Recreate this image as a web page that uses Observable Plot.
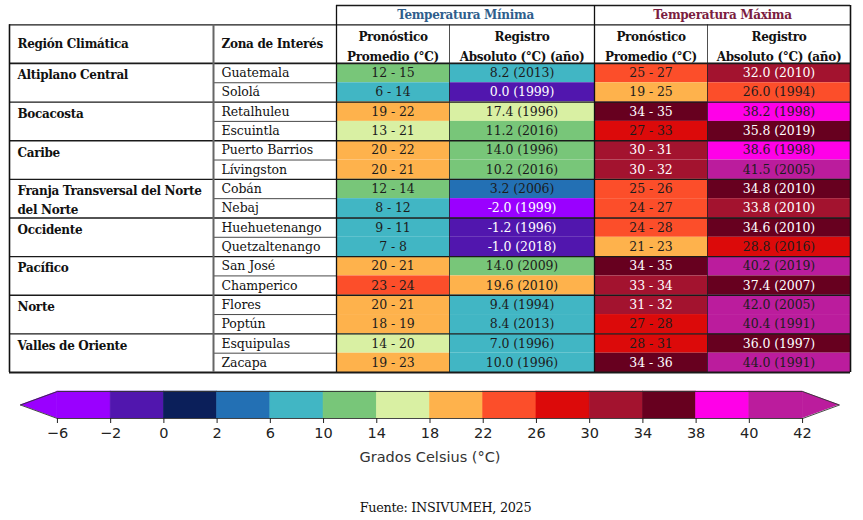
<!DOCTYPE html>
<html><head><meta charset="utf-8">
<script src="https://cdn.jsdelivr.net/npm/d3@7"></script>
<script src="https://cdn.jsdelivr.net/npm/@observablehq/plot@0.6"></script>
<style>
body{margin:0;background:#fff;width:863px;height:520px;overflow:hidden;position:relative}
#table,#bar{display:block;line-height:0}
#fuente{position:absolute;top:500px;left:14px;width:863px;text-align:center;font-family:"DejaVu Serif",serif;font-size:12.8px;letter-spacing:-0.3px;color:#111}
.bold text, text.bold{letter-spacing:-0.3px}
</style></head><body>
<div id="table"></div><div id="bar"></div><div id="fuente">Fuente: INSIVUMEH, 2025</div>
<script>
// ---------------- DATA ----------------
const regions = ["Altiplano Central", "Bocacosta", "Caribe", "Franja Transversal del Norte\ndel Norte", "Occidente", "Pacífico", "Norte", "Valles de Oriente"];
const zones = ["Guatemala", "Sololá", "Retalhuleu", "Escuintla", "Puerto Barrios", "Lívingston", "Cobán", "Nebaj", "Huehuetenango", "Quetzaltenango", "San José", "Champerico", "Flores", "Poptún", "Esquipulas", "Zacapa"];
const zoneRegion = [0, 0, 1, 1, 2, 2, 3, 3, 4, 4, 5, 5, 6, 6, 7, 7];
const minLo = [12, 6, 19, 13, 20, 20, 12, 8, 9, 7, 20, 23, 20, 18, 14, 19];
const minHi = [15, 14, 22, 21, 22, 21, 14, 12, 11, 8, 21, 24, 21, 19, 20, 23];
const minRec = [8.2, 0.0, 17.4, 11.2, 14.0, 10.2, 3.2, -2.0, -1.2, -1.0, 14.0, 19.6, 9.4, 8.4, 7.0, 10.0];
const minRecYear = [2013, 1999, 1996, 2016, 1996, 2016, 2006, 1999, 1996, 2018, 2009, 2010, 1994, 2013, 1996, 1996];
const maxLo = [25, 19, 34, 27, 30, 30, 25, 24, 24, 21, 34, 33, 31, 27, 28, 34];
const maxHi = [27, 25, 35, 33, 31, 32, 26, 27, 28, 23, 35, 34, 32, 28, 31, 36];
const maxRec = [32.0, 26.0, 38.2, 35.8, 38.6, 41.5, 34.8, 33.8, 34.6, 28.8, 40.2, 37.4, 42.0, 40.4, 36.0, 44.0];
const maxRecYear = [2010, 1994, 1998, 2019, 1998, 2005, 2010, 2010, 2010, 2016, 2019, 2007, 2005, 1991, 1997, 1991];
const groupTitles = ["Temperatura Mínima", "Temperatura Máxima"];
const headers = ["Región Climática", "Zona de Interés", "Pronóstico\nPromedio (°C)", "Registro\nAbsoluto (°C) (año)", "Pronóstico\nPromedio (°C)", "Registro\nAbsoluto (°C) (año)"];
const thresholds = [-6, -2, 0, 2, 6, 10, 14, 18, 22, 26, 30, 34, 38, 40, 42];
const binColors = ["#9a00ff", "#5116ae", "#0b1f5a", "#2370b4", "#41b6c4", "#78c679", "#d9f0a3", "#feb24c", "#fc4e2a", "#dc0a0a", "#a3132f", "#67001f", "#ff00e8", "#bb1c9d"];
const darkBins = [0, 1, 2, 10, 11];
const barLabel = "Grados Celsius (°C)";

// ---------------- LAYOUT ----------------
const COL_W = [204, 123, 113, 145, 113, 143];
const colX = [0]; COL_W.forEach(w => colX.push(colX[colX.length - 1] + w));
const W = colX[colX.length - 1];
const nRows = zones.length;
const binOf = v => Math.max(0, Math.min(thresholds.length - 2, d3.bisectLeft(thresholds, v) - 1));

const cells = [];
zones.forEach((z, r) => {
  cells.push({row: r, col: 2, v: (minLo[r] + minHi[r]) / 2, label: `${minLo[r]} - ${minHi[r]}`});
  cells.push({row: r, col: 3, v: minRec[r], label: `${minRec[r].toFixed(1)} (${minRecYear[r]})`});
  cells.push({row: r, col: 4, v: (maxLo[r] + maxHi[r]) / 2, label: `${maxLo[r]} - ${maxHi[r]}`});
  cells.push({row: r, col: 5, v: maxRec[r], label: `${maxRec[r].toFixed(1)} (${maxRecYear[r]})`});
});
cells.forEach(c => c.bin = binOf(c.v));

const regionLabels = regions.map((name, i) => {
  const start = zoneRegion.indexOf(i);
  const lines = name.split("\n").length;
  return {name, y: start + lines / 2};
});
const zoneLabels = zones.map((z, r) => ({z, y: r + 0.5}));

const hLines = [
  {y: -3, x1: colX[2], x2: W, w: 1.3},
  {y: -2, x1: 0, x2: W, w: 1.3},
  {y: 0, x1: 0, x2: W, w: 1.8},
  ...d3.range(2, nRows, 2).map(y => ({y, x1: 0, x2: W, w: 1.4})),
  ...d3.range(1, nRows, 2).map(y => ({y, x1: colX[1], x2: colX[2], w: 0.8})),
  {y: nRows, x1: 0, x2: W, w: 1.8}
];
const vLines = [
  {x: 0, y1: -2, y2: nRows, w: 1.6, c: "#111"},
  {x: colX[1], y1: -2, y2: nRows, w: 2, c: "#666"},
  {x: colX[2], y1: -3, y2: nRows, w: 1.3, c: "#111"},
  {x: colX[3], y1: -2, y2: nRows, w: 0.8, c: "#222"},
  {x: colX[4], y1: -3, y2: nRows, w: 1.3, c: "#111"},
  {x: colX[5], y1: -2, y2: nRows, w: 0.8, c: "#222"},
  {x: W, y1: -3, y2: nRows, w: 1.6, c: "#111"}
];
const headerCells = headers.map((h, i) => ({h, i}));
const groups = groupTitles.map((t, i) => ({t, i, x: (colX[2 + 2 * i] + colX[4 + 2 * i]) / 2}));
const B = {fontWeight: "bold", fontSize: 12, className: "bold"};

const table = Plot.plot({
  width: 863, height: 380,
  margin: 0,
  x: {domain: [0, W], range: [9, 850], axis: null},
  y: {domain: [-3, nRows], range: [5, 372], axis: null},
  color: {type: "ordinal", domain: d3.range(binColors.length), range: binColors},
  style: {fontFamily: "DejaVu Serif, serif", fontSize: "12.5px", background: "white", overflow: "visible", letterSpacing: "-0.1px"},
  marks: [
    Plot.rect(cells, {x1: d => colX[d.col], x2: d => colX[d.col + 1], y1: "row", y2: d => d.row + 1, fill: "bin"}),
    Plot.text(cells.filter(d => darkBins.includes(d.bin)), {x: d => (colX[d.col] + colX[d.col + 1]) / 2, y: d => d.row + 0.5, text: "label", fill: "white"}),
    Plot.text(cells.filter(d => !darkBins.includes(d.bin)), {x: d => (colX[d.col] + colX[d.col + 1]) / 2, y: d => d.row + 0.5, text: "label", fill: "#1c1c1c"}),
    Plot.text(regionLabels, {x: () => 0, y: "y", text: "name", textAnchor: "start", dx: 8, fill: "#111", lineHeight: 1.61, ...B}),
    Plot.text(zoneLabels, {x: () => colX[1], y: "y", text: "z", textAnchor: "start", dx: 8, fill: "#111"}),
    Plot.text(headerCells.filter(d => d.i < 2), {x: d => colX[d.i], y: () => -1, text: "h", textAnchor: "start", dx: 8, fill: "#111", ...B}),
    Plot.text(headerCells.filter(d => d.i >= 2), {x: d => (colX[d.i] + colX[d.i + 1]) / 2, y: () => -1, text: "h", fill: "#111", lineHeight: 1.67, ...B}),
    Plot.text(groups, {x: "x", y: () => -2.5, text: "t", fill: d => d.i === 0 ? "#2f5e8c" : "#7b1d3f", ...B}),
    Plot.ruleY(hLines, {y: "y", x1: "x1", x2: "x2", strokeWidth: "w", stroke: "#1a1a1a"}),
    Plot.ruleX(vLines, {x: "x", y1: "y1", y2: "y2", strokeWidth: "w", stroke: "c"})
  ]
});
document.getElementById("table").append(table);

// ---------------- COLORBAR ----------------
const nSeg = thresholds.length - 1;
const ext = 0.694;
const segs = d3.range(nSeg).map(i => ({i}));
const leftTri = [{x: -ext, y1: 0.5, y2: 0.5, b: 0}, {x: 0, y1: 0, y2: 1, b: 0}];
const rightTri = [{x: nSeg, y1: 0, y2: 1, b: nSeg - 1}, {x: nSeg + ext, y1: 0.5, y2: 0.5, b: nSeg - 1}];
const outline = [{x: -ext, y: 0.5}, {x: 0, y: 1}, {x: nSeg, y: 1}, {x: nSeg + ext, y: 0.5}, {x: nSeg, y: 0}, {x: 0, y: 0}, {x: -ext, y: 0.5}];
const fmt = v => String(v).replace("-", "\u2212");

const bar = Plot.plot({
  width: 863, height: 92,
  marginLeft: 20, marginRight: 24, marginTop: 11, marginBottom: 54,
  x: {domain: [-ext, nSeg + ext], axis: null},
  y: {domain: [0, 1], axis: null},
  color: {type: "ordinal", domain: d3.range(binColors.length), range: binColors},
  style: {fontFamily: "DejaVu Sans, sans-serif", fontSize: "14.5px", background: "white", overflow: "visible"},
  marks: [
    Plot.rect(segs, {x1: "i", x2: d => d.i + 1, y1: () => 0, y2: () => 1, fill: "i", stroke: "i", strokeWidth: 0.6}),
    Plot.areaY(leftTri, {x: "x", y1: "y1", y2: "y2", fill: "b"}),
    Plot.areaY(rightTri, {x: "x", y1: "y1", y2: "y2", fill: "b"}),
    Plot.line(outline, {x: "x", y: "y", stroke: "#333", strokeWidth: 0.9}),
    Plot.axisX({ticks: d3.range(nSeg + 1), tickFormat: i => fmt(thresholds[i]), tickSize: 5, tickPadding: 4, fontSize: 14.5, fill: "#222", stroke: "#222", label: null}),
    Plot.text([barLabel], {frameAnchor: "bottom", dy: 43, text: d => d, fill: "#333", fontSize: 14.5})
  ]
});
document.getElementById("bar").append(bar);
</script>
</body></html>
